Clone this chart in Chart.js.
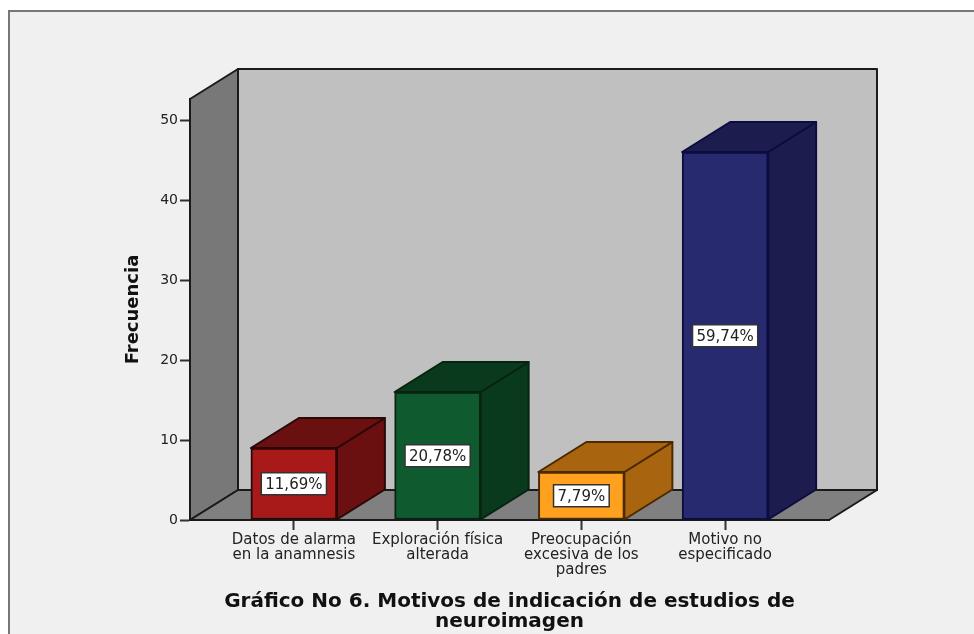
<!DOCTYPE html>
<html>
<head>
<meta charset="utf-8">
<script src="https://cdn.jsdelivr.net/npm/chart.js@4"></script>
<style>
body { margin: 0; background: #fff; }
#marco { position: absolute; left: 8px; top: 10px; width: 966px; height: 624px; background: #f0f0f0; border-left: 2px solid #777; border-top: 2px solid #777; box-sizing: border-box; }
#graf { position: absolute; left: 0; top: 0; }
</style>
</head>
<body>
<div id="marco"></div>
<canvas id="graf" width="974" height="634"></canvas>
<script>
const categorias = [
    ["Datos de alarma", "en la anamnesis"],
    ["Exploración física", "alterada"],
    ["Preocupación", "excesiva de los", "padres"],
    ["Motivo no", "especificado"]
];
const frecuencias = [9, 16, 6, 46];
const porcentajes = ["11,69%", "20,78%", "7,79%", "59,74%"];
const ticksY = [0, 10, 20, 30, 40, 50];
const titulo = ["Gráfico No 6. Motivos de indicación de estudios de", "neuroimagen"];
const tituloY = "Frecuencia";

const colorFrente = ["#a81a1a", "#0f5a2e", "#ffa01e", "#282a70"];
const colorLado = ["#6a1010", "#0a3a1e", "#a8640f", "#1c1c4e"];
const colorBorde = ["#2a0808", "#06240f", "#4a2a00", "#0c0c40"];

const fondoX = 48, fondoY = -30; // profundidad del 3D
const fuente = "'DejaVu Sans'";

function poligono(ctx, puntos, relleno, borde, grosor) {
    ctx.beginPath();
    puntos.forEach((p, i) => i ? ctx.lineTo(p[0], p[1]) : ctx.moveTo(p[0], p[1]));
    ctx.closePath();
    ctx.fillStyle = relleno;
    ctx.fill();
    ctx.strokeStyle = borde;
    ctx.lineWidth = grosor;
    ctx.lineJoin = "round";
    ctx.stroke();
}

const caja3d = {
    id: "caja3d",
    beforeDatasetsDraw(chart) {
        const ctx = chart.ctx, a = chart.chartArea;
        const l = a.left, r = a.right, t = a.top, b = a.bottom;
        ctx.save();
        poligono(ctx, [[l + fondoX, t + fondoY], [r + fondoX, t + fondoY], [r + fondoX, b + fondoY], [l + fondoX, b + fondoY]], "#c0c0c0", "#1a1a1a", 2);
        poligono(ctx, [[l, t], [l + fondoX, t + fondoY], [l + fondoX, b + fondoY], [l, b]], "#787878", "#1a1a1a", 2);
        poligono(ctx, [[l, b], [l + fondoX, b + fondoY], [r + fondoX, b + fondoY], [r, b]], "#808080", "#1a1a1a", 2);
        chart.getDatasetMeta(0).data.forEach((bar, i) => {
            const x0 = bar.x - bar.width / 2, x1 = bar.x + bar.width / 2;
            poligono(ctx, [[x1, bar.y], [x1 + fondoX, bar.y + fondoY], [x1 + fondoX, bar.base + fondoY], [x1, bar.base]], colorLado[i], colorBorde[i], 2);
            poligono(ctx, [[x0, bar.y], [x0 + fondoX, bar.y + fondoY], [x1 + fondoX, bar.y + fondoY], [x1, bar.y]], colorLado[i], colorBorde[i], 2);
        });
        ctx.restore();
    },
    afterDatasetsDraw(chart) {
        const ctx = chart.ctx;
        ctx.save();
        ctx.font = "15px " + fuente;
        ctx.textAlign = "center";
        ctx.textBaseline = "middle";
        chart.getDatasetMeta(0).data.forEach((bar, i) => {
            const cy = (bar.y + bar.base) / 2;
            const w = ctx.measureText(porcentajes[i]).width + 8;
            ctx.fillStyle = "#fff";
            ctx.fillRect(bar.x - w / 2, cy - 11, w, 22);
            ctx.strokeStyle = "#333";
            ctx.lineWidth = 1.5;
            ctx.strokeRect(bar.x - w / 2, cy - 11, w, 22);
            ctx.fillStyle = "#222";
            ctx.fillText(porcentajes[i], bar.x, cy + 1);
        });
        ctx.restore();
    }
};

new Chart("graf", {
    type: "bar",
    data: {
        datasets: [{
            data: frecuencias.map((v, i) => ({ x: i, y: v })),
            backgroundColor: colorFrente,
            borderColor: colorBorde,
            borderWidth: 2,
            borderSkipped: false,
            barThickness: 86
        }]
    },
    options: {
        responsive: false,
        animation: false,
        layout: { padding: { top: 99, right: 145, left: 0, bottom: 0 } },
        plugins: { legend: { display: false }, tooltip: { enabled: false } },
        scales: {
            x: {
                type: "linear",
                offset: false,
                min: -0.7227,
                max: 3.7227,
                afterBuildTicks: s => { s.ticks = categorias.map((c, i) => ({ value: i })); },
                afterFit: s => { s.height = 114; },
                grid: { offset: false, drawOnChartArea: false, tickLength: 10, color: "#333", tickWidth: 2 },
                border: { display: true, color: "#1a1a1a", width: 2 },
                ticks: {
                    autoSkip: false,
                    maxRotation: 0,
                    padding: 3,
                    color: "#222",
                    font: { family: fuente, size: 15, lineHeight: 1 },
                    callback: v => categorias[v]
                },
                title: {
                    display: true,
                    text: titulo,
                    color: "#111",
                    font: { family: fuente, size: 20, weight: "bold", lineHeight: 1 },
                    padding: { top: 0, bottom: 2 }
                }
            },
            y: {
                min: 0,
                max: 52.625,
                afterBuildTicks: s => { s.ticks = ticksY.map(v => ({ value: v })); },
                afterFit: s => { s.width = 190; },
                grid: { drawOnChartArea: false, tickLength: 10, color: "#333", tickWidth: 2 },
                border: { display: true, color: "#1a1a1a", width: 2 },
                ticks: { padding: 2, color: "#222", font: { family: fuente, size: 14 } },
                title: {
                    display: true,
                    text: tituloY,
                    color: "#111",
                    font: { family: fuente, size: 18, weight: "bold" },
                    padding: { top: 123, bottom: 0 }
                }
            }
        }
    },
    plugins: [caja3d]
});
</script>
</body>
</html>
